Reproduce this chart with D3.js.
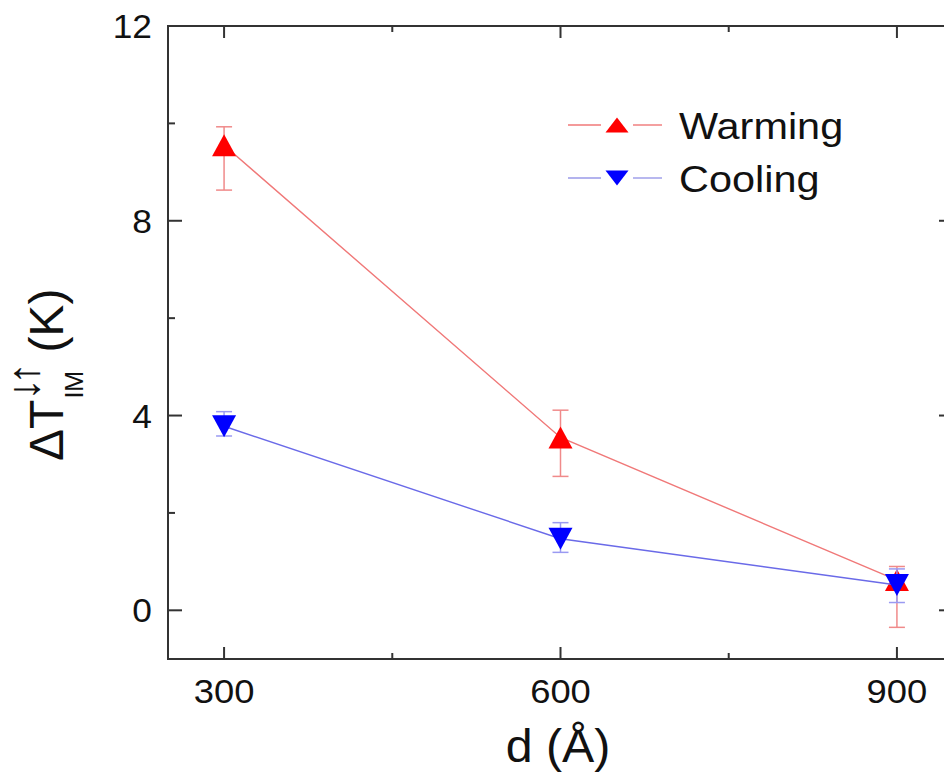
<!DOCTYPE html>
<html>
<head>
<meta charset="utf-8">
<script src="https://cdn.jsdelivr.net/npm/d3@7"></script>
<style>
  body { margin: 0; background: #fff; }
  svg { display: block; font-family: Arial, "Liberation Sans", sans-serif; }
</style>
</head>
<body>
<div id="chart"></div>
<script>
// Data
const thickness = [300, 600, 900];
const warming = [9.55, 3.55, 0.62];
const warmingErrUp = [0.38, 0.56, 0.28];
const warmingErrDown = [0.92, 0.8, 0.97];
const cooling = [3.78, 1.47, 0.52];
const coolingErrUp = [0.3, 0.33, 0.33];
const coolingErrDown = [0.2, 0.28, 0.36];
const xMajor = [300, 600, 900];
const xMinor = [450, 750];
const yMajor = [0, 4, 8, 12];
const yMinor = [2, 6, 10];

const W = 944, H = 772;
const margin = {top: 26, right: -9, bottom: 113, left: 168};

const svg = d3.select("#chart").append("svg")
    .attr("width", W)
    .attr("height", H);

const x = d3.scaleLinear().domain([250, 950]).range([margin.left, W - margin.right]);
const y = d3.scaleLinear().domain([-1, 12]).range([H - margin.bottom, margin.top]);

const axisColor = "#333";

// Axes: ticks point inward, Origin style
function drawAxes() {
    const g = svg.append("g");
    const x0 = x.range()[0], x1 = x.range()[1];
    const y0 = y.range()[0], y1 = y.range()[1];

    g.append("rect")
        .attr("x", x0).attr("y", y1)
        .attr("width", x1 - x0).attr("height", y0 - y1)
        .attr("fill", "none")
        .attr("stroke", axisColor)
        .attr("stroke-width", 2);

    const ticks = [];
    xMajor.forEach(v => ticks.push({v, len: 12, dir: "x"}));
    xMinor.forEach(v => ticks.push({v, len: 6, dir: "x"}));
    yMajor.forEach(v => ticks.push({v, len: 14, dir: "y"}));
    yMinor.forEach(v => ticks.push({v, len: 7, dir: "y"}));

    ticks.forEach(t => {
        if (t.dir === "x") {
            const px = x(t.v);
            g.append("line").attr("x1", px).attr("x2", px).attr("y1", y0).attr("y2", y0 - t.len);
            g.append("line").attr("x1", px).attr("x2", px).attr("y1", y1).attr("y2", y1 + t.len);
        } else {
            const py = y(t.v);
            g.append("line").attr("x1", x0).attr("x2", x0 + t.len).attr("y1", py).attr("y2", py);
            g.append("line").attr("x1", x1).attr("x2", x1 - t.len).attr("y1", py).attr("y2", py);
        }
    });
    g.selectAll("line").attr("stroke", axisColor).attr("stroke-width", 2);

    // labels are a little wider than plain Arial in the original
    g.selectAll(".xlab")
        .data(xMajor)
        .join("text")
        .attr("class", "xlab")
        .attr("transform", d => `translate(${x(d)},${y0 + 44}) scale(1.07,1)`)
        .attr("text-anchor", "middle")
        .attr("font-size", 34)
        .attr("fill", "#111")
        .text(d => d);

    g.selectAll(".ylab")
        .data(yMajor)
        .join("text")
        .attr("class", "ylab")
        .attr("transform", d => `translate(${x0 - 16},${y(d) + 12}) scale(1.07,1)`)
        .attr("text-anchor", "end")
        .attr("font-size", 33)
        .attr("fill", "#111")
        .text(d => d);
}
drawAxes();

// triangle path centred on (0,0)
function triangle(w, h, up) {
    const s = up ? 1 : -1;
    return `M0,${-s * h / 2}L${w / 2},${s * h / 2}L${-w / 2},${s * h / 2}Z`;
}

function drawSeries(values, errUp, errDown, lineColor, errColor, markerColor, up) {
    const g = svg.append("g");
    const line = d3.line()
        .x((d, i) => x(thickness[i]))
        .y(d => y(d));

    g.append("path")
        .datum(values)
        .attr("fill", "none")
        .attr("stroke", lineColor)
        .attr("stroke-width", 1.4)
        .attr("d", line);

    const eb = g.selectAll(".err")
        .data(values)
        .join("g")
        .attr("stroke", errColor)
        .attr("stroke-width", 1.5);
    eb.append("line")
        .attr("x1", (d, i) => x(thickness[i]))
        .attr("x2", (d, i) => x(thickness[i]))
        .attr("y1", (d, i) => y(d + errUp[i]))
        .attr("y2", (d, i) => y(d - errDown[i]));
    eb.append("line")
        .attr("x1", (d, i) => x(thickness[i]) - 8)
        .attr("x2", (d, i) => x(thickness[i]) + 8)
        .attr("y1", (d, i) => y(d + errUp[i]))
        .attr("y2", (d, i) => y(d + errUp[i]));
    eb.append("line")
        .attr("x1", (d, i) => x(thickness[i]) - 8)
        .attr("x2", (d, i) => x(thickness[i]) + 8)
        .attr("y1", (d, i) => y(d - errDown[i]))
        .attr("y2", (d, i) => y(d - errDown[i]));

    g.selectAll(".mark")
        .data(values)
        .join("path")
        .attr("transform", (d, i) => `translate(${x(thickness[i])},${y(d)})`)
        .attr("d", triangle(24, 22, up))
        .attr("fill", markerColor);
}

drawSeries(warming, warmingErrUp, warmingErrDown, "#f07878", "#f08a8a", "#ff0000", true);
drawSeries(cooling, coolingErrUp, coolingErrDown, "#6a6ae8", "#9a9af2", "#0000ff", false);

// Legend
const legend = [
    {name: "Warming", line: "#f07878", color: "#ff0000", up: true, y: 125},
    {name: "Cooling", line: "#9a9ae8", color: "#0000ff", up: false, y: 178}
];
legend.forEach(l => {
    const g = svg.append("g");
    g.append("line").attr("x1", 568).attr("x2", 601).attr("y1", l.y).attr("y2", l.y)
        .attr("stroke", l.line).attr("stroke-width", 1.4);
    g.append("line").attr("x1", 633).attr("x2", 662).attr("y1", l.y).attr("y2", l.y)
        .attr("stroke", l.line).attr("stroke-width", 1.4);
    g.append("path")
        .attr("transform", `translate(617,${l.y})`)
        .attr("d", triangle(23, 15, l.up))
        .attr("fill", l.color);
    g.append("text")
        .attr("transform", `translate(679,${l.y + 14}) scale(1.12,1)`)
        .attr("font-size", 37)
        .attr("fill", "#111")
        .text(l.name);
});

// X axis title
svg.append("text")
    .attr("transform", "translate(558,762) scale(1.05,1)")
    .attr("text-anchor", "middle")
    .attr("font-size", 46)
    .attr("fill", "#111")
    .text("d (Å)");

// Y axis title: ΔT with stacked super/subscript
const yt = svg.append("g").attr("transform", "translate(63,461) rotate(-90)");
const main = yt.append("text")
    .attr("x", 0).attr("y", 0)
    .attr("font-size", 48)
    .attr("fill", "#111")
    .text("ΔT");
const w1 = main.node().getComputedTextLength();
yt.append("text")
    .attr("x", w1 - 1).attr("y", -24)
    .attr("font-size", 44)
    .attr("letter-spacing", -6)
    .attr("fill", "#111")
    .text("↓↑");
yt.append("text")
    .attr("x", w1 + 1).attr("y", 20)
    .attr("font-size", 25)
    .attr("fill", "#111")
    .text("IM");
yt.append("text")
    .attr("x", w1 + 47).attr("y", 0)
    .attr("font-size", 48)
    .attr("fill", "#111")
    .text("(K)");
</script>
</body>
</html>
